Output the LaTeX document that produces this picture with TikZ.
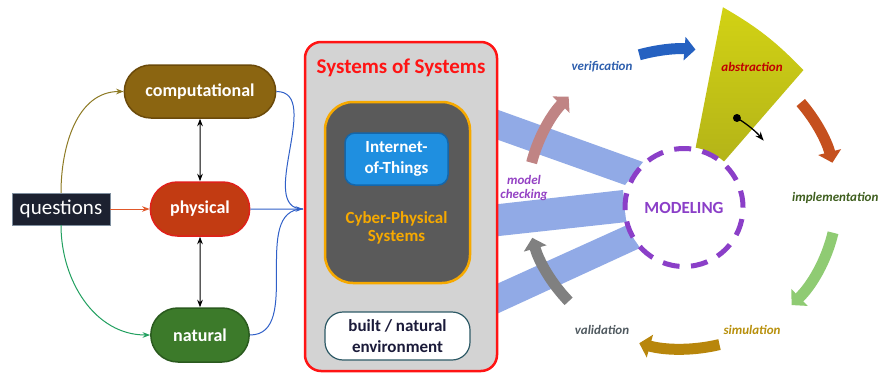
\documentclass[tikz,border=0pt]{standalone}
\usepackage{fontspec}
\setmainfont{Carlito}
\usetikzlibrary{arrows.meta,shapes.misc}
\definecolor{qfill}{HTML}{1C2130}
\definecolor{qedge}{HTML}{8090A0}
\definecolor{compfill}{HTML}{8B6511}
\definecolor{compedge}{HTML}{6B4A0A}
\definecolor{physfill}{HTML}{C23B12}
\definecolor{physedge}{HTML}{E0201A}
\definecolor{natfill}{HTML}{3C7A2A}
\definecolor{natedge}{HTML}{2A5A1E}
\definecolor{lineolive}{HTML}{8E7B25}
\definecolor{linered}{HTML}{E0582A}
\definecolor{linegreen}{HTML}{22A060}
\definecolor{lineblue}{HTML}{3060C8}
\definecolor{sosfill}{HTML}{D3D3D3}
\definecolor{sosedge}{HTML}{FF1414}
\definecolor{cpsfill}{HTML}{5A5A5A}
\definecolor{cpsedge}{HTML}{F6A900}
\definecolor{iotfill}{HTML}{1F8FE0}
\definecolor{iotedge}{HTML}{1466AA}
\definecolor{envedge}{HTML}{2E5A66}
\definecolor{envtext}{HTML}{1B1B3A}
\definecolor{bandcol}{HTML}{7E9CE2}
\definecolor{modcol}{HTML}{8B3FC8}
\definecolor{wedgetop}{HTML}{D2D214}
\definecolor{wedgebot}{HTML}{B4B418}
\definecolor{arrblue}{HTML}{2561C1}
\definecolor{arrorange}{HTML}{C5501E}
\definecolor{arrgreen}{HTML}{8FCB73}
\definecolor{arrgold}{HTML}{B8860B}
\definecolor{arrgray}{HTML}{808080}
\definecolor{arrpink}{HTML}{C08484}
\definecolor{vercol}{HTML}{2E5FAE}
\definecolor{abscol}{HTML}{C00000}
\definecolor{impcol}{HTML}{3F5F1F}
\definecolor{simcol}{HTML}{B8900C}
\definecolor{valcol}{HTML}{505A60}
\definecolor{mccol}{HTML}{9442C4}
\begin{document}
\begin{tikzpicture}[x=1pt,y=1pt,
		pill/.style={rounded rectangle,draw,line width=1.5pt,text=white,font=\fontsize{18}{20}\selectfont\bfseries,minimum height=53pt},
		box/.style={draw,align=center,font=\fontsize{17}{21}\selectfont\bfseries},
		cyc/.style={line width=11pt,-{Triangle[length=11pt,width=23pt]}},
		lbl/.style={font=\fontsize{13}{14}\selectfont\bfseries\itshape}]
	\useasboundingbox (0,0) rectangle (881,376);
	\fill[white] (0,0) rectangle (881,376);
	\node[draw=qedge,fill=qfill,text=white,minimum width=98pt,minimum height=32pt,inner sep=1pt,font=\fontsize{21}{23}\selectfont] (q) at (61,167) {questions};
	\node[pill,fill=compfill,draw=compedge,minimum width=158pt] (comp) at (200,284.5) {computational};
	\node[pill,fill=physfill,draw=physedge,minimum width=106pt,minimum height=54pt] (phys) at (200,167) {physical};
	\node[pill,fill=natfill,draw=natedge,minimum width=105pt,minimum height=54pt] (nat) at (200,41) {natural};
	\coordinate (m) at (303,167);
	\draw[Stealth-Stealth,line width=1pt] (comp) -- (phys);
	\draw[Stealth-Stealth,line width=1pt] (phys) -- (nat);
	\draw[lineolive,line width=1pt,-Stealth] (q.north) to[out=90,in=180] (comp.west);
	\draw[linered,line width=1pt,-Stealth] (q) -- (phys);
	\draw[linegreen,line width=1pt,-Stealth] (q.south) to[out=-90,in=180] (nat.west);
	\draw[lineblue,line width=1pt] (comp.east) to[out=0,in=180] (m);
	\draw[lineblue,line width=1pt] (nat.east) to[out=0,in=180] (m);
	\draw[lineblue,line width=1pt,-Stealth] (phys) -- (m);
	% bands toward modeling
	\fill[bandcol,opacity=0.85] (490,269) -- (643,214) -- (625,191) -- (490,239) -- cycle;
	\fill[bandcol,opacity=0.85] (490,171) -- (623,186) -- (627,154) -- (490,139) -- cycle;
	\fill[bandcol,opacity=0.85] (490,89) -- (627,151) -- (640,128) -- (490,59) -- cycle;
	\node[draw=sosedge,fill=sosfill,line width=2.5pt,rounded corners=16pt,minimum width=192pt,minimum height=329pt] (sos) at (401,169.5) {};
	\node[text=sosedge,font=\fontsize{21}{23}\selectfont\bfseries] (sost) at (401,308) {Systems of Systems};
	\node[draw=cpsedge,fill=cpsfill,line width=2.5pt,rounded corners=28pt,minimum width=145pt,minimum height=181pt] (cps) at (397.5,183.5) {};
	\node[box,draw=iotedge,fill=iotfill,text=white,line width=1.5pt,rounded corners=10pt,minimum width=103pt,minimum height=52pt,inner sep=0pt] (iot) at (396.5,217) {Internet-\\of-Things};
	\node[align=center,text=cpsedge,font=\fontsize{17}{18}\selectfont\bfseries] (cpst) at (396.5,148) {Cyber-Physical\\Systems};
	\node[box,draw=envedge,fill=white,text=envtext,line width=1.2pt,rounded corners=18pt,minimum width=145pt,minimum height=48pt,inner sep=0pt] (env) at (397.5,40) {built / natural\\environment};
	% modeling and abstraction
	\coordinate (mc) at (684,168.5);
	\begin{scope}[shift={(mc)}]
		\shade[top color=wedgetop,bottom color=wedgebot] (79:61) -- (79:204) to[bend left=8] (49:182) -- (49:61) arc[start angle=49,end angle=79,radius=61] -- cycle;
		\node[circle,fill=black,inner sep=0pt,minimum size=8pt] (dot) at (59.4:104) {};
		\draw[line width=1.3pt,-Stealth] (dot.center) arc[start angle=59.4,end angle=40,radius=104];
	\end{scope}
	\node[circle,draw=modcol,fill=white,line width=5pt,dash pattern=on 17pt off 11.5pt,minimum size=118pt,text=modcol,font=\fontsize{17}{19}\selectfont\bfseries] (mod) at (mc) {MODELING};
	% cycle
	\begin{scope}[shift={(682,177)}]
		\draw[cyc,arrblue] (106:155 and 150) arc[start angle=106,end angle=85,x radius=155,y radius=150];
		\draw[cyc,arrorange] (40:155 and 150) arc[start angle=40,end angle=14,x radius=155,y radius=150];
		\draw[cyc,arrgreen] (-13:155 and 150) arc[start angle=-13,end angle=-45,x radius=155,y radius=150];
		\draw[cyc,arrgold] (-76:155 and 150) arc[start angle=-76,end angle=-106,x radius=155,y radius=150];
		\draw[cyc,arrgray] (-137:155 and 150) arc[start angle=-137,end angle=-165,x radius=155,y radius=150];
		\draw[cyc,arrpink] (166:155 and 150) arc[start angle=166,end angle=137,x radius=155,y radius=150];
	\end{scope}
	\node[lbl,text=vercol] (ver) at (602,309) {verification};
	\node[lbl,text=abscol] (abs) at (752,309) {abstraction};
	\node[lbl,text=impcol,anchor=west,inner sep=0pt] (imp) at (792,178) {implementation};
	\node[lbl,text=simcol] (sim) at (752,46) {simulation};
	\node[lbl,text=valcol] (val) at (602,46) {validation};
	\node[lbl,text=mccol,align=center] (mch) at (524,188) {model\\checking};
\end{tikzpicture}
\end{document}
